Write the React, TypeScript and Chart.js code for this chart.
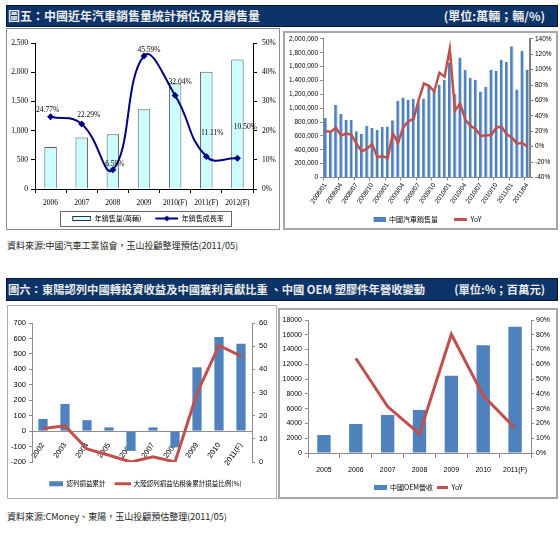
import React, { useEffect, useRef } from "react";
import { Chart, registerables } from "chart.js";

Chart.register(...registerables);

// ---------------- data ----------------
const annualYears = ["2006", "2007", "2008", "2009", "2010(F)", "2011(F)", "2012(F)"];
const annualSales = [720, 880, 938, 1364, 1806, 2006, 2217];
const annualGrowth = [24.77, 22.29, 6.59, 45.59, 32.04, 11.11, 10.5];

const monthLabels = [
  "2008/01", "2008/02", "2008/03", "2008/04", "2008/05", "2008/06", "2008/07", "2008/08", "2008/09", "2008/10", "2008/11", "2008/12",
  "2009/01", "2009/02", "2009/03", "2009/04", "2009/05", "2009/06", "2009/07", "2009/08", "2009/09", "2009/10", "2009/11", "2009/12",
  "2010/01", "2010/02", "2010/03", "2010/04", "2010/05", "2010/06", "2010/07", "2010/08", "2010/09", "2010/10", "2010/11", "2010/12",
  "2011/01", "2011/02", "2011/03", "2011/04",
];
const monthlySales = [
  860000, 670000, 1050000, 915000, 830000, 830000, 667000, 628000, 748000, 715000, 686000, 734000,
  735000, 825000, 1108000, 1155000, 1120000, 1137000, 1080000, 1140000, 1333000, 1250000, 1338000, 1410000,
  1660000, 1210000, 1730000, 1550000, 1440000, 1410000, 1240000, 1310000, 1550000, 1535000, 1700000, 1665000,
  1895000, 1270000, 1830000, 1550000,
];
const monthlyYoY = [
  20, 19.5, 24.5, 14.5, 17, 15.5, 3.5, -6, -2.5, 3.5, -13.5, -12.5,
  -14.5, 17, 5, 25, 33, 36, 61, 82, 79, 72, 96, 91,
  127, 47, 56, 35, 27, 23, 14, 15, 15, 25, 26, 16,
  12, 4, 5, 0,
];

const profitYears = ["2002", "2003", "2004", "2005", "2006", "2007", "2008", "2009", "2010", "2011(F)"];
const chinaProfit = [79, 176, 71, 24, -128, 24, -105, 413, 610, 565];
const chinaProfitShare = [14.5, 15.6, 5.6, 2.9, 0, 2.3, 0, 29.7, 50.3, 45.7];

const oemYears = ["2005", "2006", "2007", "2008", "2009", "2010", "2011(F)"];
const oemRevenue = [2430, 3930, 5150, 5830, 10470, 14580, 17100];
const oemYoY = [null, 64.1, 31.4, 12.9, 80.4, 38.8, 16.7];

// ---------------- styles ----------------
const SANS = "'Liberation Sans', Arial, sans-serif";
const SERIF = "'Liberation Serif', 'Times New Roman', serif";
const CJK = "'Noto Sans CJK TC', 'Noto Sans CJK SC', sans-serif";
const BLUE = "#4f81bd";
const BLUE_EDGE = "#b9cde5";
const RED = "#c0504d";
const AXIS_GREY = "#8c8c8c";
const CLEAR = "rgba(0,0,0,0)";

function iconCanvas(w: number, h: number, draw: (g: CanvasRenderingContext2D) => void) {
  const c = document.createElement("canvas");
  c.width = w;
  c.height = h;
  const g = c.getContext("2d");
  if (g) draw(g);
  return c;
}
function rectIcon(w: number, h: number, rw: number, rh: number, fill: string, stroke?: string) {
  return iconCanvas(w, h, (g) => {
    const x = w - rw;
    const y = Math.round((h - rh) / 2);
    g.fillStyle = fill;
    g.fillRect(x, y, rw, rh);
    if (stroke) {
      g.strokeStyle = stroke;
      g.lineWidth = 1;
      g.strokeRect(x + 0.5, y + 0.5, rw - 1, rh - 1);
    }
  });
}
function lineIcon(w: number, h: number, lw: number, color: string, width: number, diamond = 0) {
  return iconCanvas(w, h, (g) => {
    const x0 = w - lw;
    const y = h / 2;
    g.strokeStyle = color;
    g.lineWidth = width;
    g.beginPath();
    g.moveTo(x0, y);
    g.lineTo(w, y);
    g.stroke();
    if (diamond) {
      const cx = x0 + lw / 2;
      g.fillStyle = color;
      g.beginPath();
      g.moveTo(cx, y - diamond);
      g.lineTo(cx + diamond, y);
      g.lineTo(cx, y + diamond);
      g.lineTo(cx - diamond, y);
      g.closePath();
      g.fill();
    }
  });
}

function legendCfg(items: { text: string; icon: HTMLCanvasElement }[], fontSize: number, padding: number, iconW: number) {
  return {
    display: true,
    position: "bottom",
    align: "center",
    labels: {
      usePointStyle: true,
      pointStyleWidth: iconW,
      boxHeight: fontSize,
      padding,
      color: "#000",
      font: { family: CJK, size: fontSize },
      generateLabels: () =>
        items.map((it, i) => ({
          text: it.text,
          pointStyle: it.icon,
          fillStyle: CLEAR,
          strokeStyle: CLEAR,
          lineWidth: 0,
          hidden: false,
          datasetIndex: i,
          fontColor: "#000",
        })),
    },
  };
}

const legendFramePlugin = {
  id: "legendFrame",
  afterDraw(chart: any, _a: any, opts: any) {
    if (!opts || !opts.show) return;
    const boxes = chart.legend && chart.legend.legendHitBoxes;
    if (!boxes || !boxes.length) return;
    const l = Math.min(...boxes.map((b: any) => b.left));
    const r = Math.max(...boxes.map((b: any) => b.left + b.width));
    const t = Math.min(...boxes.map((b: any) => b.top));
    const bt = Math.max(...boxes.map((b: any) => b.top + b.height));
    const g = chart.ctx;
    g.save();
    g.strokeStyle = opts.color;
    g.lineWidth = 1;
    g.strokeRect(
      Math.round(l - opts.padL) + 0.5,
      Math.round(t - opts.padY) + 0.5,
      Math.round(r - l + opts.padL + opts.padR),
      Math.round(bt - t + 2 * opts.padY)
    );
    g.restore();
  },
};

const pctLabelPlugin = {
  id: "pctLabels",
  afterDatasetsDraw(chart: any, _a: any, opts: any) {
    if (!opts || opts.datasetIndex === undefined) return;
    const meta = chart.getDatasetMeta(opts.datasetIndex);
    const data = chart.data.datasets[opts.datasetIndex].data;
    const g = chart.ctx;
    g.save();
    g.font = opts.font;
    g.fillStyle = "#000";
    g.textAlign = "center";
    g.textBaseline = "middle";
    meta.data.forEach((pt: any, i: number) => {
      const off = opts.offsets[i] || [0, -8];
      g.fillText(Number(data[i]).toFixed(2) + "%", pt.x + off[0], pt.y + off[1]);
    });
    g.restore();
  },
};

function fmtComma(v: any) {
  return Number(v).toLocaleString("en-US");
}

// ---------------- chart configs ----------------
function configA(): any {
  const f = { family: SERIF, size: 7.5 };
  return {
    type: "bar",
    data: {
      labels: annualYears,
      datasets: [
        {
          type: "bar",
          label: "年銷售量(萬輛)",
          data: annualSales,
          yAxisID: "y",
          backgroundColor: "#ccffff",
          borderColor: "#5a5a5a",
          borderWidth: 1,
          barPercentage: 0.4,
          categoryPercentage: 1,
          order: 2,
        },
        {
          type: "line",
          label: "年銷售成長率",
          data: annualGrowth,
          yAxisID: "y1",
          borderColor: "#000080",
          backgroundColor: "#000080",
          borderWidth: 2,
          tension: 0.45,
          pointStyle: "rectRot",
          pointRadius: 3.5,
          pointBorderWidth: 0,
          order: 1,
        },
      ],
    },
    options: {
      responsive: false,
      animation: false,
      layout: { padding: { top: 14, left: 0, right: 0, bottom: 0 } },
      plugins: {
        tooltip: { enabled: false },
        legend: legendCfg(
          [
            { text: "年銷售量(萬輛)", icon: rectIcon(29, 7, 19, 5, "#ccffff", "#333") },
            { text: "年銷售成長率", icon: lineIcon(29, 7, 23, "#000080", 2, 3) },
          ],
          7,
          8,
          29
        ),
        legendFrame: { show: true, color: "#666", padL: 2, padR: 7, padY: 4 },
        pctLabels: {
          datasetIndex: 1,
          font: "7.5px " + SERIF,
          offsets: [[-3, -7], [7, -9], [2, -6], [5, -6], [5, -13], [6, -24], [8, -31]],
        },
      },
      scales: {
        x: {
          ticks: { font: f, color: "#000", padding: 6, maxRotation: 0 },
          grid: { drawOnChartArea: false, color: "#000", tickLength: 4, offset: true },
          border: { color: "#000" },
          afterFit: (s: any) => {
            s.height = 18;
          },
        },
        y: {
          min: 0,
          max: 2500,
          ticks: { stepSize: 500, font: f, color: "#000", padding: 3, callback: fmtComma },
          grid: { drawOnChartArea: false, color: "#000", tickLength: 4 },
          border: { color: "#000" },
          afterFit: (s: any) => {
            s.width = 28;
          },
        },
        y1: {
          position: "right",
          min: 0,
          max: 50,
          ticks: { stepSize: 10, font: f, color: "#000", padding: 5, callback: (v: any) => v + "%" },
          grid: { drawOnChartArea: false, color: "#000", tickLength: 4 },
          border: { color: "#000" },
          afterFit: (s: any) => {
            s.width = 26;
          },
        },
      },
    },
    plugins: [legendFramePlugin, pctLabelPlugin],
  };
}

function configB(): any {
  const f = { family: SANS, size: 6.5 };
  return {
    type: "bar",
    data: {
      labels: monthLabels,
      datasets: [
        {
          type: "bar",
          label: "中國汽車銷售量",
          data: monthlySales,
          yAxisID: "y",
          backgroundColor: BLUE,
          borderColor: BLUE_EDGE,
          borderWidth: { top: 0, right: 1, bottom: 0, left: 0 },
          barPercentage: 0.7,
          categoryPercentage: 1,
          order: 2,
        },
        {
          type: "line",
          label: "YoY",
          data: monthlyYoY,
          yAxisID: "y1",
          borderColor: RED,
          backgroundColor: RED,
          borderWidth: 2.5,
          pointRadius: 0,
          tension: 0,
          order: 1,
        },
      ],
    },
    options: {
      responsive: false,
      animation: false,
      layout: { padding: { top: 5, left: 0, right: 0, bottom: 0 } },
      plugins: {
        tooltip: { enabled: false },
        legend: legendCfg(
          [
            { text: "中國汽車銷售量", icon: rectIcon(26, 7, 12, 5, BLUE) },
            { text: "YoY", icon: lineIcon(26, 7, 13, RED, 3) },
          ],
          7,
          3,
          26
        ),
      },
      scales: {
        x: {
          ticks: {
            autoSkip: false,
            maxRotation: 55,
            minRotation: 55,
            font: f,
            color: "#000",
            padding: 1,
            callback: (_v: any, i: number) => (i % 3 === 0 ? monthLabels[i] : ""),
          },
          grid: {
            drawOnChartArea: false,
            tickLength: 3,
            offset: true,
            color: (c: any) => (c.index % 3 === 0 ? AXIS_GREY : CLEAR),
          },
          border: { color: AXIS_GREY },
          afterFit: (s: any) => {
            s.height = 35.5;
          },
        },
        y: {
          min: 0,
          max: 2000000,
          ticks: { stepSize: 200000, font: f, color: "#000", padding: 2, callback: fmtComma },
          grid: { drawOnChartArea: false, color: AXIS_GREY, tickLength: 3 },
          border: { color: AXIS_GREY },
          afterFit: (s: any) => {
            s.width = 38;
          },
        },
        y1: {
          position: "right",
          min: -40,
          max: 140,
          ticks: { stepSize: 20, font: f, color: "#000", padding: 2, callback: (v: any) => v + "%" },
          grid: { drawOnChartArea: false, color: "#7f7f7f", tickLength: 3 },
          border: { color: "#7f7f7f", width: 2 },
          afterFit: (s: any) => {
            s.width = 26;
          },
        },
      },
    },
    plugins: [],
  };
}

function configC(): any {
  const f = { family: SANS, size: 7.5 };
  return {
    type: "bar",
    data: {
      labels: profitYears,
      datasets: [
        {
          type: "bar",
          label: "認列損益累計",
          data: chinaProfit,
          yAxisID: "y",
          backgroundColor: BLUE,
          barPercentage: 0.42,
          categoryPercentage: 1,
          order: 2,
        },
        {
          type: "line",
          label: "大陸認列損益佔稅後累計損益比例(%)",
          data: chinaProfitShare,
          yAxisID: "y1",
          borderColor: RED,
          backgroundColor: RED,
          borderWidth: 3,
          pointRadius: 0,
          tension: 0,
          order: 1,
        },
      ],
    },
    options: {
      responsive: false,
      animation: false,
      layout: { padding: { top: 17, left: 0, right: 0, bottom: 0 } },
      plugins: {
        tooltip: { enabled: false },
        legend: legendCfg(
          [
            { text: "認列損益累計", icon: rectIcon(22, 7, 14, 5, BLUE) },
            { text: "大陸認列損益佔稅後累計損益比例(%)", icon: lineIcon(22, 7, 16, RED, 3) },
          ],
          6.5,
          3,
          22
        ),
      },
      scales: {
        x: {
          position: { y: 0 },
          ticks: { maxRotation: 55, minRotation: 55, font: f, color: "#000", padding: 2 },
          grid: { display: false },
          border: { color: AXIS_GREY },
        },
        xBottomSpace: {
          type: "category",
          position: "bottom",
          display: true,
          ticks: { display: false },
          grid: { display: false },
          border: { display: false },
          afterFit: (s: any) => {
            s.height = 15.5;
          },
        },
        y: {
          min: -200,
          max: 700,
          ticks: { stepSize: 100, font: f, color: "#000", padding: 3 },
          grid: { drawOnChartArea: false, color: AXIS_GREY, tickLength: 3 },
          border: { color: AXIS_GREY },
          afterFit: (s: any) => {
            s.width = 24;
          },
        },
        y1: {
          position: "right",
          min: 0,
          max: 60,
          ticks: { stepSize: 10, font: f, color: "#000", padding: 4 },
          grid: { drawOnChartArea: false, color: AXIS_GREY, tickLength: 3 },
          border: { color: AXIS_GREY },
          afterFit: (s: any) => {
            s.width = 23;
          },
        },
      },
    },
    plugins: [],
  };
}

function configD(): any {
  const f = { family: SANS, size: 7 };
  return {
    type: "bar",
    data: {
      labels: oemYears,
      datasets: [
        {
          type: "bar",
          label: "中國OEM營收",
          data: oemRevenue,
          yAxisID: "y",
          backgroundColor: BLUE,
          barPercentage: 0.42,
          categoryPercentage: 1,
          order: 2,
        },
        {
          type: "line",
          label: "YoY",
          data: oemYoY,
          yAxisID: "y1",
          borderColor: RED,
          backgroundColor: RED,
          borderWidth: 3,
          pointRadius: 0,
          tension: 0,
          order: 1,
        },
      ],
    },
    options: {
      responsive: false,
      animation: false,
      layout: { padding: { top: 10, left: 0, right: 0, bottom: 0 } },
      plugins: {
        tooltip: { enabled: false },
        legend: legendCfg(
          [
            { text: "中國OEM營收", icon: rectIcon(13, 7, 13, 5, BLUE) },
            { text: "YoY", icon: lineIcon(13, 7, 11, RED, 3) },
          ],
          7,
          2,
          13
        ),
      },
      scales: {
        x: {
          ticks: { maxRotation: 0, font: f, color: "#000", padding: 7.5 },
          grid: { drawOnChartArea: false, color: AXIS_GREY, tickLength: 5, offset: true },
          border: { color: AXIS_GREY },
          afterFit: (s: any) => {
            s.height = 29;
          },
        },
        y: {
          min: 0,
          max: 18000,
          ticks: { stepSize: 2000, font: f, color: "#000", padding: 3, callback: (v: any) => String(v) },
          grid: { drawOnChartArea: false, color: AXIS_GREY, tickLength: 3 },
          border: { color: AXIS_GREY },
          afterFit: (s: any) => {
            s.width = 28;
          },
        },
        y1: {
          position: "right",
          min: 0,
          max: 90,
          ticks: { stepSize: 10, font: f, color: "#000", padding: 2, callback: (v: any) => v + "%" },
          grid: { drawOnChartArea: false, color: AXIS_GREY, tickLength: 3 },
          border: { color: AXIS_GREY },
          afterFit: (s: any) => {
            s.width = 25;
          },
        },
      },
    },
    plugins: [],
  };
}

// ---------------- components ----------------
function ChartCanvas(props: { left: number; top: number; width: number; height: number; make: () => any }) {
  const ref = useRef<HTMLCanvasElement | null>(null);
  useEffect(() => {
    if (!ref.current) return;
    const chart = new Chart(ref.current, props.make());
    return () => chart.destroy();
  }, []);
  return (
    <canvas
      ref={ref}
      width={props.width}
      height={props.height}
      style={{ position: "absolute", left: props.left, top: props.top, width: props.width, height: props.height }}
    />
  );
}

function Header(props: { top: number; height: number; title: string; unit: string; size: number }) {
  return (
    <div
      style={{
        position: "absolute",
        left: 6,
        top: props.top,
        width: 552,
        height: props.height,
        boxSizing: "border-box",
        background: "#0d3468",
        border: "1px solid #05142b",
        color: "#ececec",
        fontFamily: CJK,
        fontWeight: 700,
        fontSize: props.size,
        lineHeight: props.height - 2 + "px",
        whiteSpace: "nowrap",
      }}
    >
      <span style={{ position: "absolute", left: 1, top: 0 }}>{props.title}</span>
      <span style={{ position: "absolute", right: 12, top: 0 }}>{props.unit}</span>
    </div>
  );
}

function Frame(props: { left: number; top: number; width: number; height: number; color: string; bw: number }) {
  return (
    <div
      style={{
        position: "absolute",
        left: props.left,
        top: props.top,
        width: props.width,
        height: props.height,
        boxSizing: "border-box",
        border: `${props.bw}px solid ${props.color}`,
        background: "#fff",
      }}
    />
  );
}

function Source(props: { top: number; text: string }) {
  return (
    <div
      style={{
        position: "absolute",
        left: 7,
        top: props.top,
        fontFamily: CJK,
        fontSize: 9,
        lineHeight: "12px",
        color: "#222",
        whiteSpace: "nowrap",
      }}
    >
      {props.text}
    </div>
  );
}

export default function App() {
  return (
    <div style={{ position: "absolute", left: 0, top: 0, width: 560, height: 533, background: "#fff", overflow: "hidden" }}>
      <Header top={5} height={22} size={12} title="圖五：中國近年汽車銷售量統計預估及月銷售量" unit="(單位:萬輛；輛/%)" />
      <Frame left={6} top={28} width={274} height={202} color="#8a8a8a" bw={1} />
      <Frame left={283} top={31} width={275} height={199} color="#a6a6a6" bw={2} />
      <ChartCanvas left={7} top={29} width={272} height={203} make={configA} />
      <ChartCanvas left={285} top={33} width={271} height={200} make={configB} />
      <Source top={240} text="資料來源:中國汽車工業協會，玉山投顧整理預估(2011/05)" />

      <Header
        top={278}
        height={23}
        size={11.3}
        title="圖六：東陽認列中國轉投資收益及中國獲利貢獻比重 、中國 OEM 塑膠件年營收變動"
        unit="(單位:%；百萬元)"
      />
      <Frame left={7} top={305} width={270} height={194} color="#b0b0b0" bw={1.5} />
      <Frame left={278} top={308} width={280} height={191} color="#a6a6a6" bw={2} />
      <ChartCanvas left={8} top={306} width={267} height={191} make={configC} />
      <ChartCanvas left={280} top={310} width={276} height={191} make={configD} />
      <Source top={511} text="資料來源:CMoney、東陽，玉山投顧預估整理(2011/05)" />
    </div>
  );
}
